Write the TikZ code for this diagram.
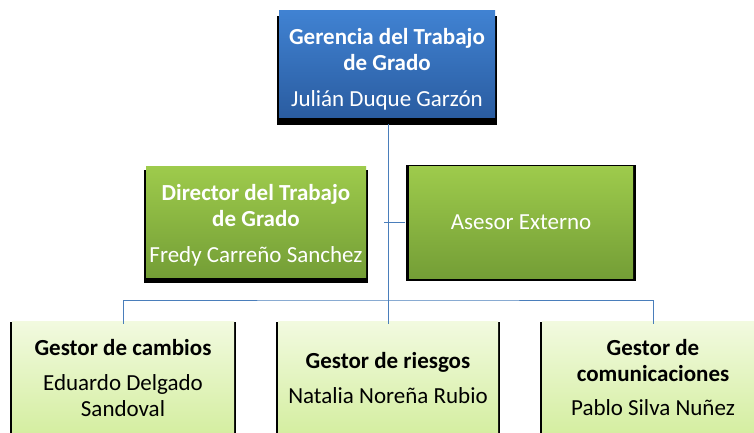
\documentclass[tikz,border=0pt]{standalone}
\usepackage{fontspec}
\setmainfont{Carlito}
\usetikzlibrary{shadows}
\definecolor{connc}{RGB}{74,126,187}
\definecolor{blueT}{RGB}{64,130,210}
\definecolor{blueB}{RGB}{42,92,160}
\definecolor{greenT}{RGB}{158,203,76}
\definecolor{greenB}{RGB}{116,158,54}
\definecolor{lgreenT}{RGB}{242,250,224}
\definecolor{lgreenB}{RGB}{212,238,160}
\newcommand{\downstrut}{\rule{0pt}{25pt}}
\tikzset{
  base/.style={rectangle, inner sep=0pt, align=center, font=\fontsize{23}{26}\selectfont},
  bluebox/.style={base, top color=blueT, bottom color=blueB, text=white,
    general shadow={fill=black, shadow yshift=-6pt, shadow scale=1.02}},
  greenbox/.style={base, top color=greenT, bottom color=greenB, text=white,
    general shadow={fill=black, shadow yshift=-5pt, shadow scale=1.02}},
  framebox/.style={base, top color=greenT, bottom color=greenB, text=white,
    general shadow={fill=black, shadow yshift=-1pt, shadow scale=1.03}},
  lightbox/.style={base, top color=lgreenT, bottom color=lgreenB, text=black,
    general shadow={fill=black, shadow yshift=-2pt, shadow scale=1.02}},
  conn/.style={draw=connc, line width=0.9pt}
}
\begin{document}
\begin{tikzpicture}[x=1pt,y=-1pt]
\useasboundingbox (0,0) rectangle (754,433);
\clip (0,0) rectangle (754,433);
\fill[white] (0,0) rectangle (754,433);
\coordinate (bus) at (388,300);
\node[bluebox, minimum width=216pt, minimum height=107pt] (top) at (387,64.5)
  {\downstrut\textbf{Gerencia del Trabajo}\\\textbf{de Grado}\\[10pt]Julián Duque Garzón};
\node[greenbox, minimum width=220pt, minimum height=111pt] (dir) at (256,221.5)
  {\rule{0pt}{23pt}\textbf{Director del Trabajo}\\\textbf{de Grado}\\[10pt]Fredy Carreño Sanchez};
\node[framebox, minimum width=224pt, minimum height=112pt] (ase) at (521,222)
  {Asesor Externo};
\node[lightbox, minimum width=222pt, minimum height=114pt] (bl) at (123,378)
  {\textbf{Gestor de cambios}\\[9pt]Eduardo Delgado\\Sandoval};
\node[lightbox, minimum width=220pt, minimum height=114pt] (bm) at (388,378)
  {\textbf{Gestor de riesgos}\\[9pt]Natalia Noreña Rubio};
\node[lightbox, minimum width=222pt, minimum height=114pt] (br) at (653,378)
  {\textbf{Gestor de}\\\textbf{comunicaciones}\\[8pt]Pablo Silva Nuñez};
\draw[conn] ([yshift=-6pt]bm.north |- top.south) -- (bus);
\draw[conn] (bus) -- ([yshift=-3pt]bm.north);
\draw[conn] ([yshift=-3pt]bl.north) |- (bus) -| ([yshift=-3pt]br.north);
\draw[conn] ([xshift=-4pt]bm.north |- ase.west) -- ([xshift=-4pt]ase.west);
\end{tikzpicture}
\end{document}
